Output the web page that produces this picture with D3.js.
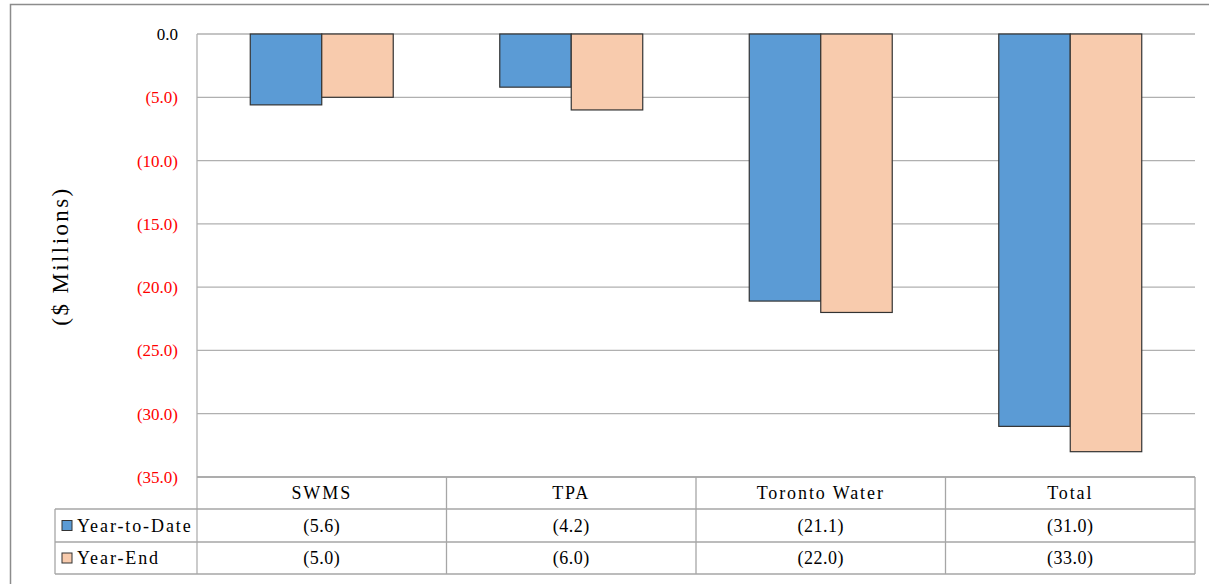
<!DOCTYPE html>
<html><head><meta charset="utf-8">
<script src="https://cdn.jsdelivr.net/npm/d3@7"></script>
<style>body{margin:0;background:#fff;} svg{display:block;} svg text{font-family:"Liberation Serif","Times New Roman",serif;}</style>
</head><body>
<svg id="c" width="1209" height="584"></svg>
<script>
const categories = ["SWMS", "TPA", "Toronto Water", "Total"];
const seriesNames = ["Year-to-Date", "Year-End"];
const yearToDate = [-5.6, -4.2, -21.1, -31.0];
const yearEnd = [-5.0, -6.0, -22.0, -33.0];
const yTicks = [0, -5, -10, -15, -20, -25, -30, -35];
const colors = ["#5B9BD5", "#F8CBAD"];

const svg = d3.select("#c");
const L = 197, R = 1195, T = 34, B = 477;

// outer frame
svg.append("path").attr("d", "M10.5,584 V4.5 H1209").attr("fill","none").attr("stroke","#8c8c8c").attr("stroke-width",1.5);

const x = d3.scaleBand().domain(categories).range([L, R]).paddingInner(0).paddingOuter(0);
const xs = d3.scaleBand().domain(seriesNames).range([0, x.bandwidth()]).paddingInner(0).paddingOuter(0.745);
const y = d3.scaleLinear().domain([0, -35]).range([T, B]);

// gridlines
svg.append("g").selectAll("line").data(yTicks).join("line")
  .attr("x1", L).attr("x2", R).attr("y1", d=>y(d)).attr("y2", d=>y(d))
  .attr("stroke", "#b0b0b0").attr("stroke-width", 1.3);
svg.append("line").attr("x1", L).attr("x2", L).attr("y1", T).attr("y2", 574).attr("stroke","#b0b0b0").attr("stroke-width",1.3);

// y axis labels
const fmt = d => d < 0 ? "(" + Math.abs(d).toFixed(1) + ")" : d.toFixed(1);
svg.append("g").selectAll("text").data(yTicks).join("text")
  .attr("x", 178).attr("y", d=>y(d)).attr("dy", "0.35em")
  .attr("text-anchor","end").attr("font-size", 17)
  .attr("fill", d => d < 0 ? "#ff0000" : "#000").text(fmt);

svg.append("text").attr("transform","translate(68,256) rotate(-90)")
  .attr("text-anchor","middle").attr("font-size",23).attr("letter-spacing", 2.4)
  .text("($ Millions)");

// bars
const series = [yearToDate, yearEnd];
series.forEach((vals, si) => {
  svg.append("g").selectAll("rect").data(vals).join("rect")
    .attr("x", (d,i) => x(categories[i]) + xs(seriesNames[si]))
    .attr("width", xs.bandwidth())
    .attr("y", y(0))
    .attr("height", d => y(d) - y(0))
    .attr("fill", colors[si]).attr("stroke", "#333").attr("stroke-width", 1.2);
});

// data table
const rowY = [477, 509, 542, 574];
const tg = svg.append("g");
tg.append("line").attr("x1", L).attr("x2", R).attr("y1", rowY[0]).attr("y2", rowY[0]).attr("stroke","#a6a6a6").attr("stroke-width",1.3);
[1,2,3].forEach(k => tg.append("line").attr("x1", 55).attr("x2", R).attr("y1", rowY[k]).attr("y2", rowY[k]).attr("stroke","#a6a6a6").attr("stroke-width",1.3));
tg.append("line").attr("x1", 55).attr("x2", 55).attr("y1", rowY[1]).attr("y2", rowY[3]).attr("stroke","#a6a6a6").attr("stroke-width",1.3);
categories.forEach(c => {
  tg.append("line").attr("x1", x(c)+x.bandwidth()).attr("x2", x(c)+x.bandwidth()).attr("y1", rowY[0]).attr("y2", rowY[3]).attr("stroke","#a6a6a6").attr("stroke-width",1.3);
});
const tfs = 18, tls = 1.9;
tg.selectAll("text.cat").data(categories).join("text").attr("class","cat")
  .attr("x", d => x(d) + x.bandwidth()/2).attr("y", (rowY[0]+rowY[1])/2).attr("dy","0.35em")
  .attr("text-anchor","middle").attr("font-size",tfs).attr("letter-spacing", tls).text(d=>d);
series.forEach((vals, si) => {
  const cy = (rowY[si+1] + rowY[si+2]) / 2;
  tg.append("rect").attr("x", 62).attr("y", cy - 5).attr("width", 10).attr("height", 10)
    .attr("fill", colors[si]).attr("stroke", "#333").attr("stroke-width", 1);
  tg.append("text").attr("x", 77).attr("y", cy).attr("dy","0.35em")
    .attr("font-size",tfs).attr("letter-spacing", tls).text(seriesNames[si]);
  tg.selectAll("text.v"+si).data(vals).join("text").attr("class","v"+si)
    .attr("x", (d,i) => x(categories[i]) + x.bandwidth()/2).attr("y", cy).attr("dy","0.35em")
    .attr("text-anchor","middle").attr("font-size",tfs).attr("letter-spacing", 0.5).text(fmt);
});
</script>
</body></html>
